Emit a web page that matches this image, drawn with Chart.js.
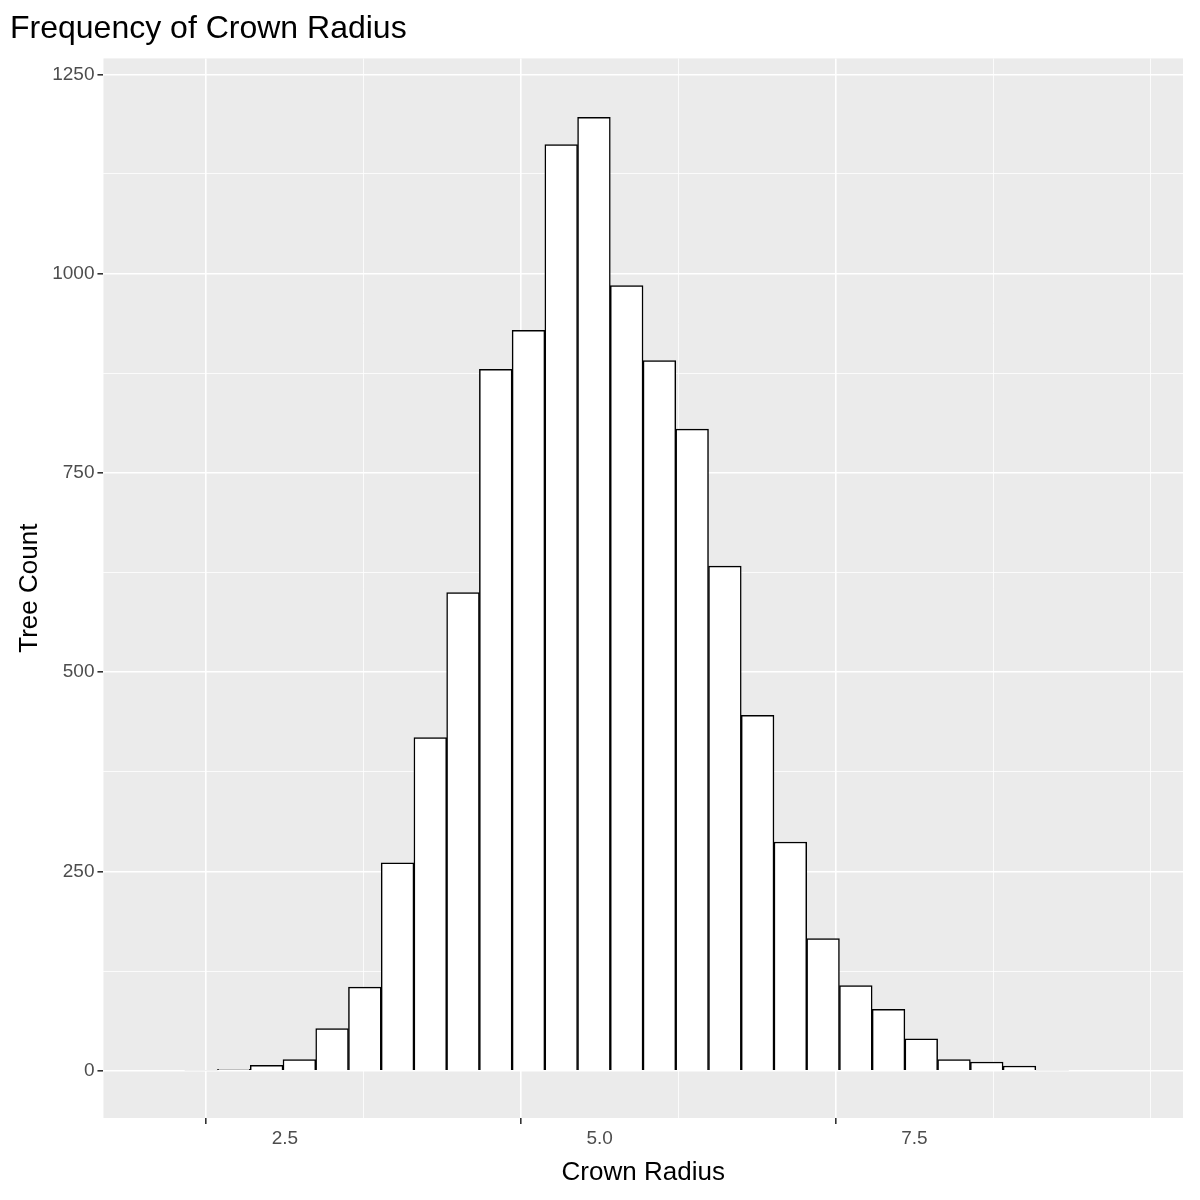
<!DOCTYPE html>
<html>
<head>
<meta charset="utf-8">
<script src="https://cdn.jsdelivr.net/npm/chart.js@4"></script>
<style>
  body { margin: 0; background: #fff; }
</style>
</head>
<body>
<canvas id="histChart" width="1200" height="1200"></canvas>
<script>
// Histogram bins (30 bins, width ~0.26)
const binStart = 1.445;
const binWidth = 0.26;
const counts = [0, 1, 2, 7, 14, 53, 105, 261, 418, 600, 880, 929, 1162, 1196, 985,
                891, 805, 633, 446, 287, 166, 107, 77, 40, 14, 11, 6, 1, 0, 0];
const xTickValues = [1.25, 2.5, 3.75, 5, 6.25, 7.5, 8.75];
const xTickLabels = { 2.5: '2.5', 5: '5.0', 7.5: '7.5' };
const yTickValues = [0, 125, 250, 375, 500, 625, 750, 875, 1000, 1125, 1250];

const points = counts.map((c, i) => ({ x: binStart + binWidth * (i + 0.5), y: c }));

// Grey panel background like ggplot
const panelBg = {
    id: 'panelBg',
    beforeDraw(chart) {
        const { ctx, chartArea: a } = chart;
        ctx.save();
        ctx.fillStyle = '#EBEBEB';
        ctx.fillRect(a.left, a.top, a.right - a.left, a.bottom - a.top);
        ctx.restore();
    }
};

const tickVal = c => (c && c.tick) ? c.tick.value : NaN;
const isMajorX = v => Math.abs(v / 2.5 - Math.round(v / 2.5)) < 1e-6;
const isMajorY = v => v % 250 === 0;

new Chart(document.getElementById('histChart'), {
    type: 'bar',
    data: {
        datasets: [{
            data: points,
            backgroundColor: '#FFFFFF',
            borderColor: '#000000',
            borderWidth: 1.5,
            barPercentage: 1.0,
            categoryPercentage: 1.0,
            grouped: false
        }]
    },
    plugins: [panelBg],
    options: {
        responsive: false,
        animation: false,
        devicePixelRatio: 1,
        layout: { padding: { left: 10, right: 17, top: 0, bottom: 8 } },
        plugins: {
            legend: { display: false },
            tooltip: { enabled: false },
            title: {
                display: true,
                text: 'Frequency of Crown Radius',
                align: 'start',
                color: '#000',
                font: { family: 'Arial, Liberation Sans', size: 32, weight: 'normal' },
                padding: { top: 10, bottom: 10 }
            }
        },
        scales: {
            x: {
                type: 'linear',
                offset: false,
                min: 1.059,
                max: 9.634,
                afterBuildTicks: axis => { axis.ticks = xTickValues.map(v => ({ value: v })); },
                ticks: {
                    autoSkip: false,
                    maxRotation: 0,
                    color: '#4D4D4D',
                    font: { family: 'Arial, Liberation Sans', size: 19 },
                    callback: v => xTickLabels[v] || ''
                },
                grid: {
                    color: '#FFFFFF',
                    lineWidth: c => isMajorX(tickVal(c)) ? 1.6 : 0.8,
                    tickColor: c => isMajorX(tickVal(c)) ? '#333333' : 'rgba(0,0,0,0)',
                    tickLength: 6
                },
                border: { display: false },
                title: {
                    display: true,
                    text: 'Crown Radius',
                    color: '#000',
                    font: { family: 'Arial, Liberation Sans', size: 26 }
                }
            },
            y: {
                min: -59.2,
                max: 1270,
                afterBuildTicks: axis => { axis.ticks = yTickValues.map(v => ({ value: v })); },
                ticks: {
                    autoSkip: false,
                    color: '#4D4D4D',
                    font: { family: 'Arial, Liberation Sans', size: 19 },
                    callback: v => isMajorY(v) ? String(v) : ''
                },
                grid: {
                    color: '#FFFFFF',
                    lineWidth: c => isMajorY(tickVal(c)) ? 1.6 : 0.8,
                    tickColor: c => isMajorY(tickVal(c)) ? '#333333' : 'rgba(0,0,0,0)',
                    tickLength: 6
                },
                border: { display: false },
                title: {
                    display: true,
                    text: 'Tree Count',
                    color: '#000',
                    font: { family: 'Arial, Liberation Sans', size: 26 }
                }
            }
        }
    }
});
</script>
</body>
</html>
